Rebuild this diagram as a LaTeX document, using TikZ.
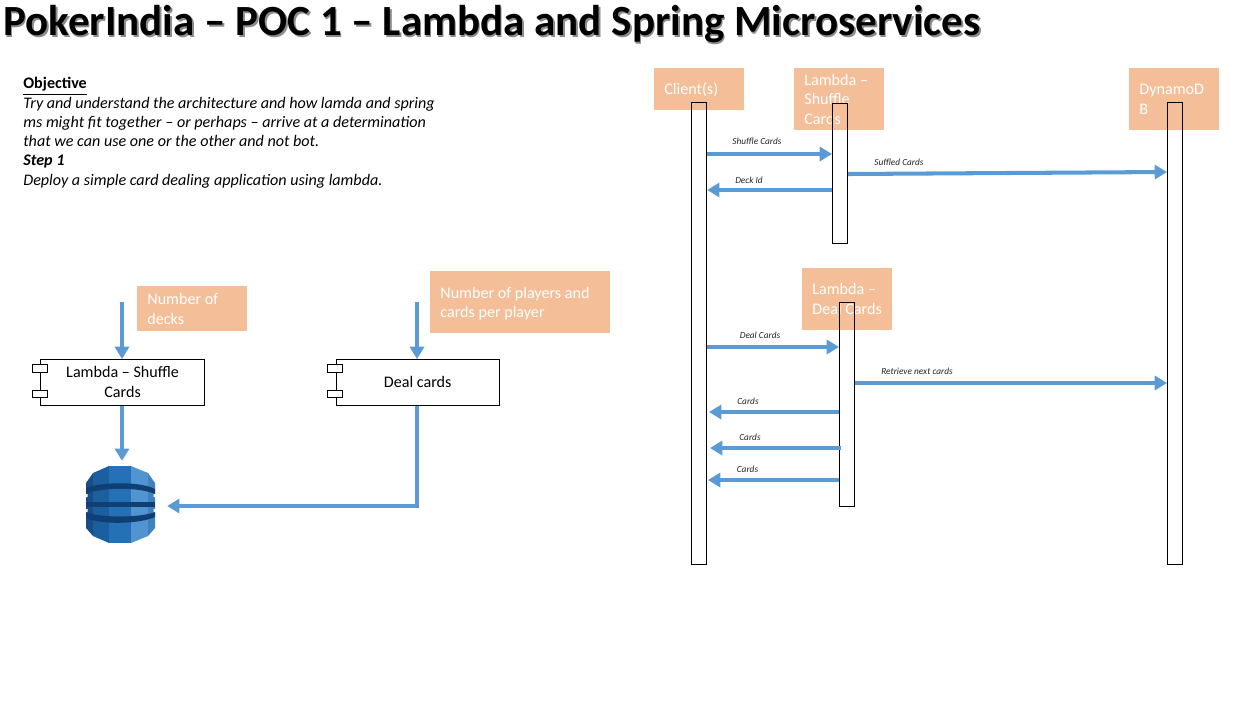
\documentclass[tikz,border=0pt]{standalone}
\usepackage{fontspec}
\setmainfont{Carlito}
\definecolor{arrowblue}{HTML}{5B9BD5}
\definecolor{peach}{HTML}{F4BE98}
\definecolor{dbedge}{HTML}{174E85}
\definecolor{dbleft}{HTML}{1C5F9F}
\definecolor{dbmid}{HTML}{2471B8}
\definecolor{dbright}{HTML}{5294CF}
\definecolor{dbrim}{HTML}{3F82C0}
\definecolor{dbdark}{HTML}{0F3F73}
\usetikzlibrary{arrows.meta}
\newcommand{\pokertitle}{PokerIndia -- POC 1 -- Lambda and Spring Microservices}
\tikzset{
    flow/.style={draw=arrowblue,line width=2.4pt,-{Triangle[length=7pt,width=8pt]}},
    msg/.style={draw=arrowblue,line width=2.3pt,-{Triangle[length=7pt,width=8pt]}},
    msglabel/.style={font=\fontsize{5.3}{6}\selectfont\itshape,text=black!85,inner sep=0pt},
    actor/.style={fill=peach,text=white,font=\fontsize{9.17}{11.2}\selectfont,align=flush left,anchor=north west,
        inner xsep=5.7pt,inner ysep=0pt,minimum width=51pt,minimum height=35.2pt,text width=39.6pt},
    life/.style={draw=black,line width=0.6pt,minimum width=8.6pt,inner sep=0pt,anchor=north west},
    compbox/.style={draw=black,fill=white,line width=0.5pt,align=center,inner sep=0pt,
        font=\fontsize{9.17}{11.2}\selectfont,anchor=north west,minimum width=93.5pt,minimum height=26pt},
    comptab/.style={draw=black,fill=white,line width=0.5pt,minimum width=8.5pt,minimum height=4.4pt,inner sep=0pt}
}
\begin{document}
\begin{tikzpicture}[x=0.02cm,y=-0.02cm]
    \useasboundingbox (0,0) rectangle (1247,708);
    % heading
    \node[anchor=west,inner sep=0pt,text=black!45,font=\fontsize{24.5}{28}\selectfont\bfseries] (titleshadow) at (4.6,25.6) {\pokertitle};
    \node[anchor=west,inner sep=0pt,font=\fontsize{24.5}{28}\selectfont\bfseries] (title) at (3,24) {\pokertitle};
    % objective text
    \node[anchor=north west,inner sep=0pt,align=left,font=\fontsize{9.17}{11}\selectfont] (objective) at (23,77) {%
        \underline{\textbf{Objective}}\\
        \textit{Try and understand the architecture and how lamda and spring}\\
        \textit{ms might fit together -- or perhaps -- arrive at a determination}\\
        \textit{that we can use one or the other and not bot.}\\
        \textbf{\textit{Step 1}}\\
        \textit{Deploy a simple card dealing application using lambda.}};
    % left part, inputs
    \node[actor,minimum width=62.4pt,minimum height=25.5pt,text width=51pt] (decks) at (137,286) {Number of\\decks};
    \node[actor,minimum width=102pt,text width=90.6pt,text depth=10.9pt] (players) at (430,271) {Number of players and\\cards per player};
    % components
    \node[compbox] (shufflecomp) at (40,359) {Lambda -- Shuffle\\Cards};
    \node[comptab] (shuffletaba) at (39.5,368.5) {};
    \node[comptab] (shuffletabb) at (39.5,394) {};
    \node[compbox,minimum width=92.5pt] (dealcomp) at (336,359) {Deal cards};
    \node[comptab] (dealtaba) at (334.5,368.5) {};
    \node[comptab] (dealtabb) at (334.5,394) {};
    % dynamo icon
    \node[minimum width=52.7pt,minimum height=51pt,inner sep=0pt] (dbicon) at (120.5,506) {};
    \fill[dbedge] (93,473) -- (86,483) -- (86,528) -- (93,536) -- cycle;
    \fill[dbleft] (109,466) -- (93,473) -- (93,536) -- (109,543) -- cycle;
    \fill[dbmid] (109,466) rectangle (131,543);
    \fill[dbright] (131,466) -- (148,473) -- (148,536) -- (131,543) -- cycle;
    \fill[dbrim] (148,473) -- (155,483) -- (155,528) -- (148,536) -- cycle;
    \fill[dbdark] (86,488) .. controls (100,482) and (140,481) .. (155,489)
        -- (155,494) .. controls (140,487) and (100,487) .. (86,494) -- cycle;
    \fill[dbdark] (86,502) rectangle (155,507);
    \fill[dbdark] (86,512) .. controls (100,518) and (140,518) .. (155,512)
        -- (155,517) .. controls (140,524) and (100,525) .. (86,518) -- cycle;
    \fill[white] (85,494) rectangle (87.5,497) (153.5,494) rectangle (156,497)
        (85,509) rectangle (87.5,512) (153.5,509) rectangle (156,512);
    % left part, connectors
    \coordinate (deckstart) at (122,302);
    \coordinate (playerstart) at (417,302);
    \draw[flow] (deckstart) -- (deckstart |- shufflecomp.north);
    \draw[flow] (playerstart) -- (playerstart |- dealcomp.north);
    \draw[flow] (deckstart |- shufflecomp.south) -- (deckstart |- dbicon.north);
    \draw[flow] (playerstart |- dealcomp.south) |- (dbicon.east);
    % actors
    \node[actor,minimum height=23.8pt] (clienthead) at (654,68) {Client(s)};
    \node[actor] (shufflehead) at (794,68) {Lambda --\\Shuffle\\Cards};
    \node[actor] (dynamohead) at (1129,68) {DynamoD\\B};
    \node[actor,text depth=11.9pt] (dealhead) at (802,268) {Lambda --\\Deal Cards};
    % lifelines
    \node[life,minimum height=263pt] (clientlife) at (691,102) {};
    \node[life,minimum height=79.4pt] (shufflelife) at (832,103) {};
    \node[life,minimum height=263pt] (dynamolife) at (1167,102) {};
    \node[life,minimum height=116.2pt] (deallife) at (839,302) {};
    % messages
    \draw[msg] (clientlife.east |- 0,154) -- (shufflelife.west |- 0,154);
    \draw[msg] (shufflelife.west |- 0,190) -- (clientlife.east |- 0,190);
    \draw[msg] (shufflelife.east |- 0,174) -- (dynamolife.west |- 0,172);
    \draw[msg] (clientlife.east |- 0,347) -- (deallife.west |- 0,347);
    \draw[msg] (deallife.east |- 0,383) -- (dynamolife.west |- 0,383);
    \draw[msg] (deallife.west |- 0,412) -- (709,412);
    \draw[msg] (841,448) -- (710,448);
    \draw[msg] (deallife.west |- 0,480) -- (708,480);
    % message labels
    \node[msglabel] (shufflemsg) at (757,141.5) {Shuffle Cards};
    \node[msglabel] (decklabel) at (749,180) {Deck Id};
    \node[msglabel] (suffledmsg) at (899,162) {Suffled Cards};
    \node[msglabel] (dealmsg) at (760,335) {Deal Cards};
    \node[msglabel] (retrievemsg) at (917,371) {Retrieve next cards};
    \node[msglabel] (cardsa) at (748,401) {Cards};
    \node[msglabel] (cardsb) at (750,437) {Cards};
    \node[msglabel] (cardsc) at (747.5,469) {Cards};
\end{tikzpicture}
\end{document}
